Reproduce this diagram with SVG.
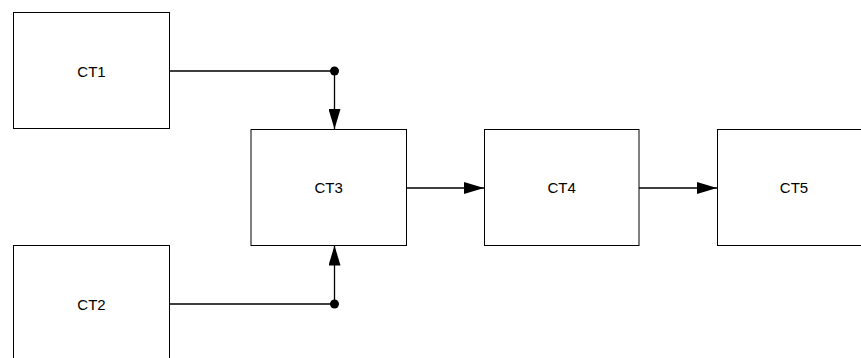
<svg xmlns="http://www.w3.org/2000/svg" width="861" height="358" viewBox="0 0 861 358">
<style>
.box{fill:#fff;stroke:#000;stroke-width:1}
.lbl{font-family:"Liberation Sans",Arial,sans-serif;font-size:15px;fill:#000;text-anchor:middle;dominant-baseline:central}
.wire{fill:none;stroke:#000;stroke-width:1.3}
</style>
<defs>
<marker id="arr" markerWidth="20" markerHeight="12" refX="20" refY="6" orient="auto" markerUnits="userSpaceOnUse">
<path d="M0,0 L20,6 L0,12 Z" fill="#000"/>
</marker>
</defs>
<rect width="861" height="358" fill="#fff"/>
<g id="CT1"><rect class="box" x="13.5" y="12.5" width="156" height="116"/><text class="lbl" x="91.5" y="71">CT1</text></g>
<g id="CT2"><rect class="box" x="13.5" y="245.5" width="156" height="120"/><text class="lbl" x="91.5" y="304">CT2</text></g>
<g id="CT3"><rect class="box" x="251" y="129.5" width="155.5" height="116"/><text class="lbl" x="328.7" y="187.5">CT3</text></g>
<g id="CT4"><rect class="box" x="484.5" y="129.5" width="154.5" height="116"/><text class="lbl" x="561.7" y="187.5">CT4</text></g>
<g id="CT5"><rect class="box" x="717.5" y="129.5" width="160" height="116"/><text class="lbl" x="794" y="187.5">CT5</text></g>
<g id="connectors">
<path class="wire" d="M169.5,71 H334.5 V129" marker-end="url(#arr)"/>
<circle cx="334.5" cy="71" r="4.5" fill="#000"/>
<path class="wire" d="M169.5,304 H334.5 V245.5" marker-end="url(#arr)"/>
<circle cx="334.5" cy="304" r="4.5" fill="#000"/>
<path class="wire" d="M406.5,188 H484" marker-end="url(#arr)"/>
<path class="wire" d="M639,188 H717" marker-end="url(#arr)"/>
</g>
</svg>
